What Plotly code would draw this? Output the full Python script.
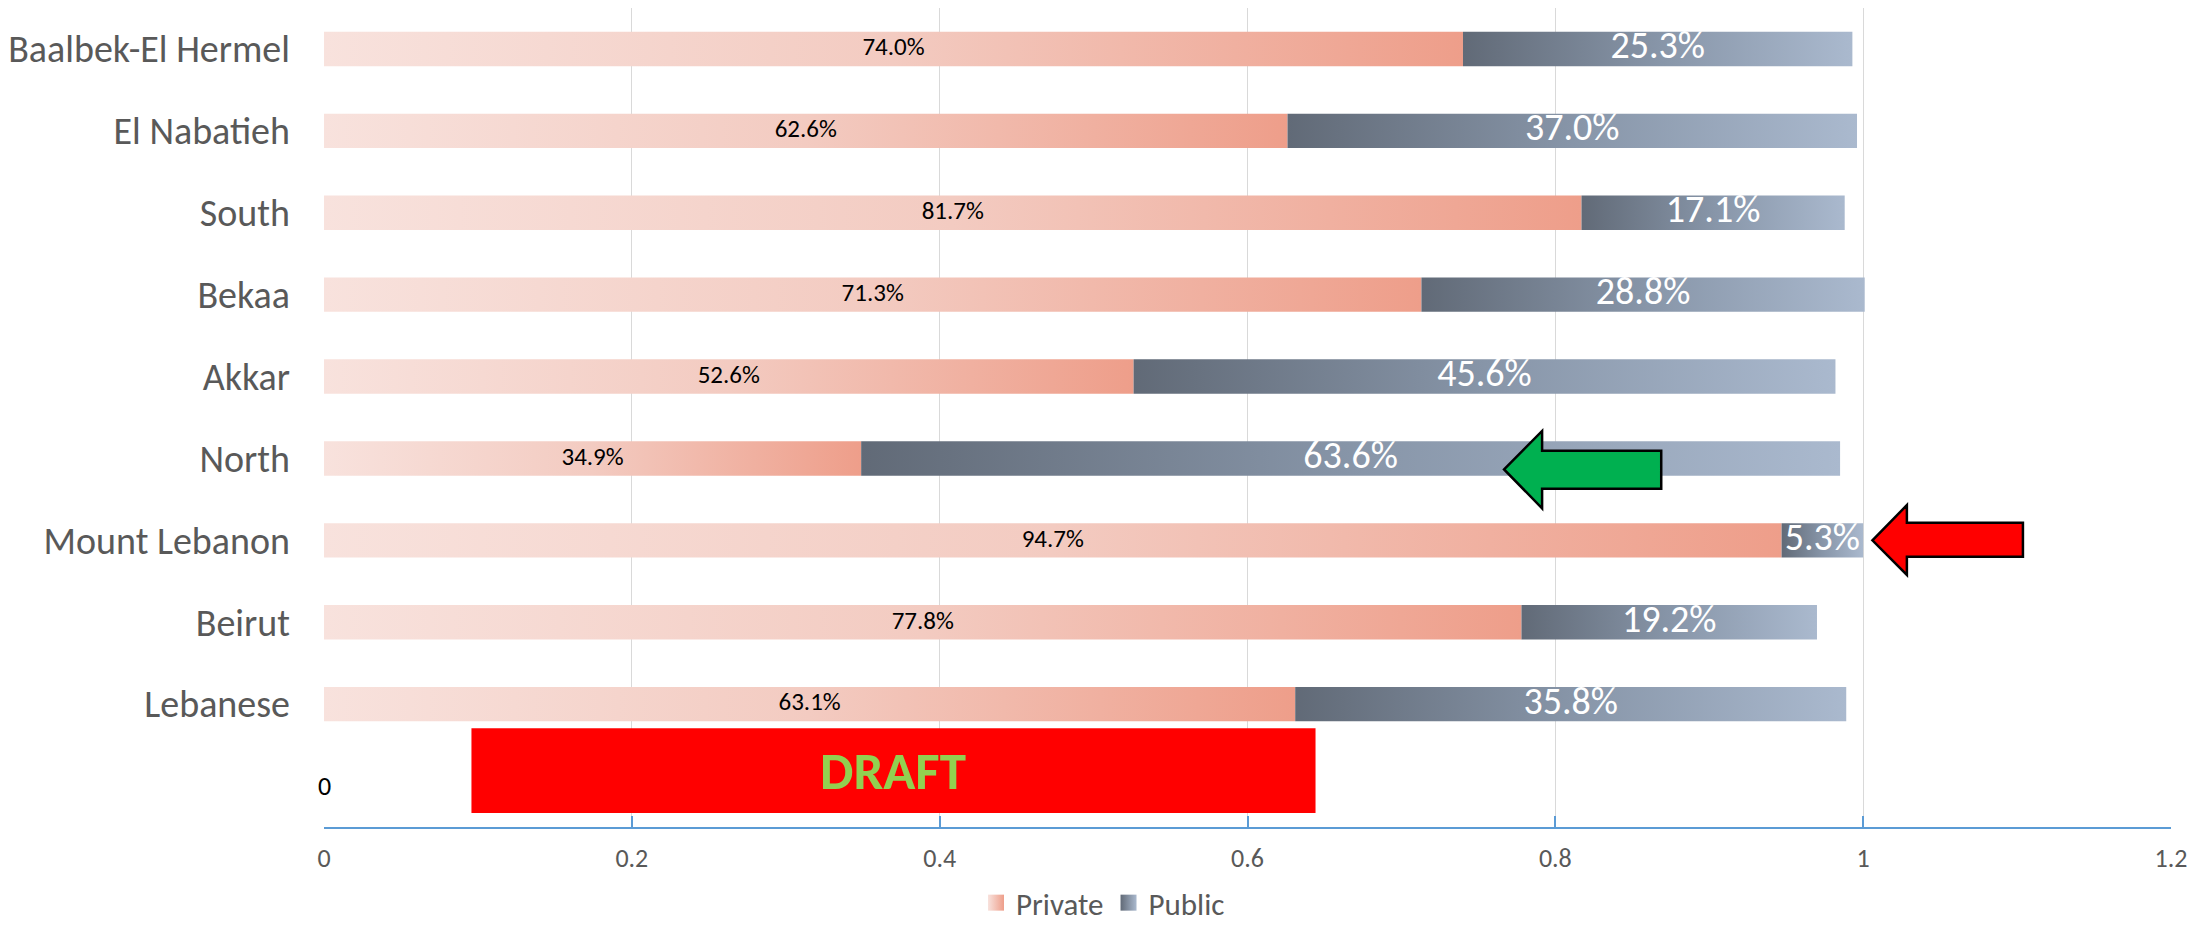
import plotly.graph_objects as go

# School enrolment share by sector, per region (bottom to top)
regions = ["Lebanese", "Beirut", "Mount Lebanon", "North", "Akkar",
           "Bekaa", "South", "El Nabatieh", "Baalbek-El Hermel"]
private_pct = [63.1, 77.8, 94.7, 34.9, 52.6, 71.3, 81.7, 62.6, 74.0]
public_pct = [35.8, 19.2, 5.3, 63.6, 45.6, 28.8, 17.1, 37.0, 25.3]
x_ticks = [0, 0.2, 0.4, 0.6, 0.8, 1.0, 1.2]

FONT = "Calibri, Carlito, Lato, sans-serif"
GREY_TEXT = "#595959"
PRIVATE_SCALE = [[0, "#f8e2dd"], [0.5, "#f3cbc1"], [1, "#ee9e8a"]]
PUBLIC_SCALE = [[0, "#616a77"], [0.5, "#8795a8"], [1, "#aab9ce"]]
BAR_HALF = 0.21

fig = go.Figure()


def add_segment(x0, x1, yc, scale, name):
    fig.add_trace(go.Scatter(
        x=[x0, x1, x1, x0, x0],
        y=[yc - BAR_HALF, yc - BAR_HALF, yc + BAR_HALF, yc + BAR_HALF, yc - BAR_HALF],
        mode="lines", line=dict(width=0), fill="toself",
        fillgradient=dict(type="horizontal", colorscale=scale),
        showlegend=False, hoverinfo="skip", name=name,
    ))


ys = list(range(1, len(regions) + 1))
for yc, pv, pb in zip(ys, private_pct, public_pct):
    p = pv / 100
    q = pb / 100
    add_segment(0, p, yc, PRIVATE_SCALE, "Private")
    add_segment(p, p + q, yc, PUBLIC_SCALE, "Public")

# value labels, centred in each segment
fig.add_trace(go.Scatter(
    x=[pv / 200 for pv in private_pct], y=ys, mode="text",
    text=[f"{v:.1f}%" for v in private_pct],
    textfont=dict(family=FONT, size=25, color="#000000"),
    showlegend=False, hoverinfo="skip",
))
fig.add_trace(go.Scatter(
    x=[pv / 100 + pb / 200 for pv, pb in zip(private_pct, public_pct)], y=ys,
    mode="text", text=[f"{v:.1f}%" for v in public_pct],
    textfont=dict(family=FONT, size=38, color="#ffffff"),
    showlegend=False, hoverinfo="skip",
))

# legend entries with gradient swatches
for name, scale in (("Private", PRIVATE_SCALE), ("Public", PUBLIC_SCALE)):
    fig.add_trace(go.Scatter(
        x=[None], y=[None], mode="markers", name=name,
        marker=dict(symbol="square", size=16, color=scale[0][1],
                    gradient=dict(type="horizontal", color=scale[-1][1]),
                    line=dict(width=0)),
    ))

# callout arrows
green_arrow = [(0.7667, 3.866), (0.7914, 4.336), (0.7914, 4.093), (0.8688, 4.093),
               (0.8688, 3.63), (0.7914, 3.63), (0.7914, 3.391)]
red_arrow = [(1.006, 3.0), (1.0284, 3.43), (1.0284, 3.214), (1.1038, 3.214),
             (1.1038, 2.80), (1.0284, 2.80), (1.0284, 2.577)]


def poly_path(pts):
    return "M " + " L ".join(f"{x},{y}" for x, y in pts) + " Z"


fig.add_shape(type="path", path=poly_path(green_arrow), xref="x", yref="y",
              fillcolor="#00b050", line=dict(color="#000000", width=2.5))
fig.add_shape(type="path", path=poly_path(red_arrow), xref="x", yref="y",
              fillcolor="#ff0000", line=dict(color="#000000", width=2.5))

# draft banner
fig.add_shape(type="rect", x0=0.0958, x1=0.6442, y0=-0.33, y1=0.706,
              xref="x", yref="y", fillcolor="#ff0000", line=dict(width=0))
fig.add_annotation(x=0.37, y=0.188, xref="x", yref="y", text="<b>DRAFT</b>",
                   showarrow=False, font=dict(family=FONT, size=53, color="#92d050"))
fig.add_annotation(x=0, y=0, xref="x", yref="y", text="0", showarrow=False,
                   font=dict(family=FONT, size=26, color="#000000"))

fig.update_layout(
    width=2206, height=930,
    margin=dict(l=324, r=35, t=8, b=103, autoexpand=False),
    paper_bgcolor="#ffffff", plot_bgcolor="#ffffff",
    font=dict(family=FONT, color=GREY_TEXT),
    legend=dict(orientation="h", xref="container", yref="container",
                x=0.5, xanchor="center", y=0.0, yanchor="bottom",
                font=dict(family=FONT, size=31, color=GREY_TEXT),
                itemsizing="trace", itemwidth=30,
                tracegroupgap=0, borderwidth=0),
    xaxis=dict(range=[0, 1.2], tickvals=x_ticks,
               ticktext=[f"{t:g}" for t in x_ticks],
               showgrid=True, gridcolor="#d9d9d9", gridwidth=1.3,
               zeroline=False, showline=True, linecolor="#5b9bd5", linewidth=2,
               ticks="inside", ticklen=11, tickcolor="#5b9bd5", tickwidth=1.5,
               tickfont=dict(family=FONT, size=26, color=GREY_TEXT),
               ticklabelstandoff=7, fixedrange=True),
    yaxis=dict(range=[-0.5, 9.5], tickvals=ys, ticktext=regions,
               showgrid=False, zeroline=False, showline=False, ticks="",
               tickfont=dict(family=FONT, size=38, color=GREY_TEXT),
               ticklabelstandoff=33, fixedrange=True),
)

fig.write_html("out.html")
